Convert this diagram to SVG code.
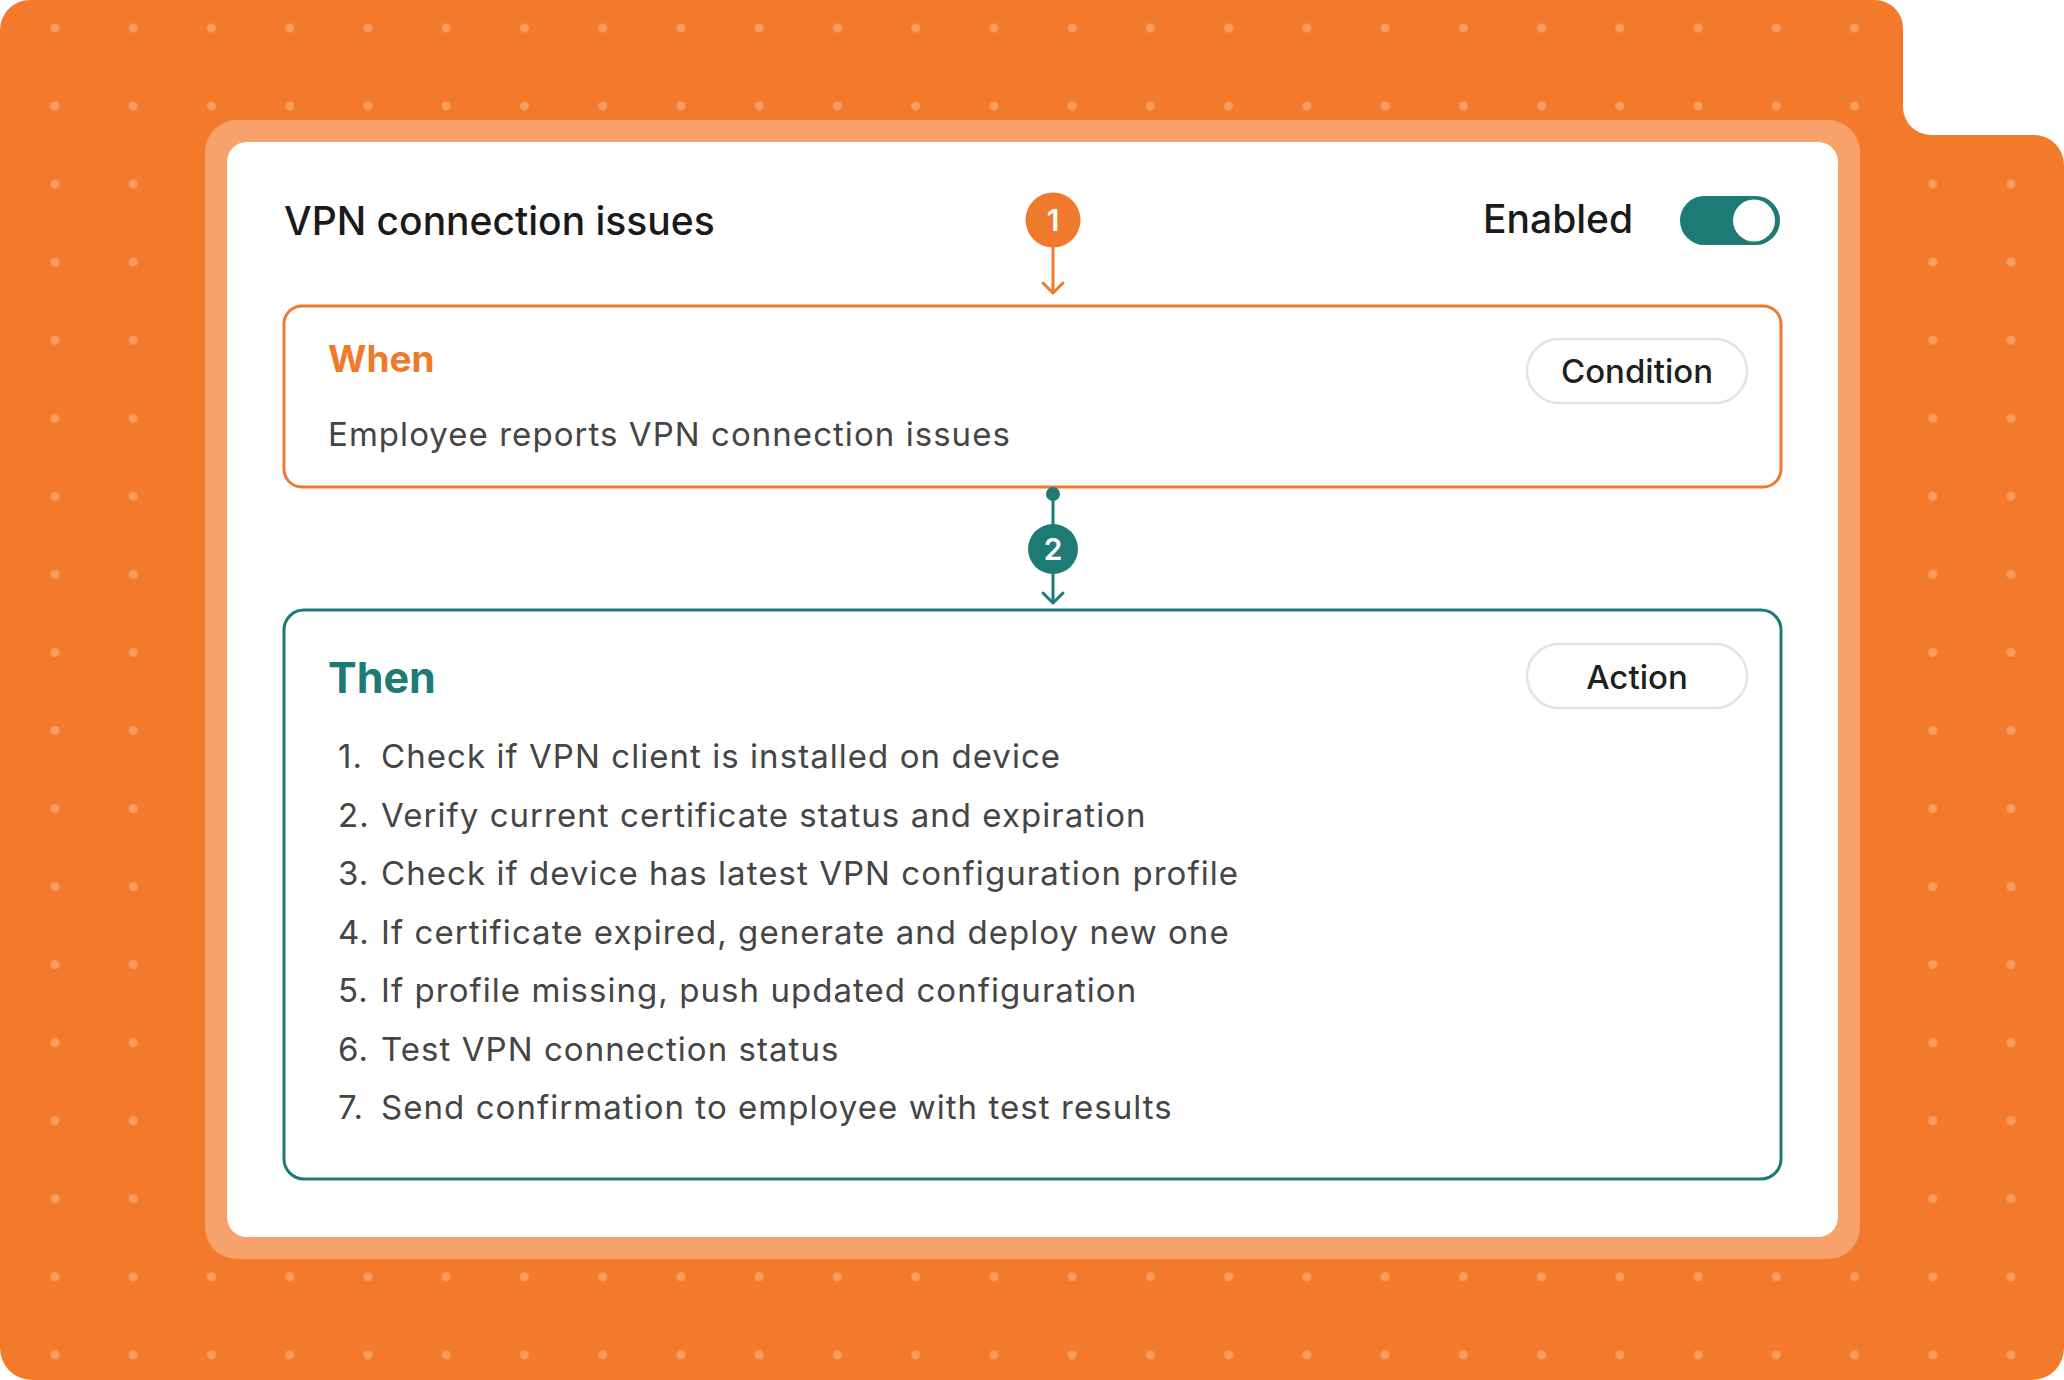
<svg xmlns="http://www.w3.org/2000/svg" width="2064" height="1380" viewBox="0 0 2064 1380">
  <defs>
    <pattern id="dots" patternUnits="userSpaceOnUse" x="15.88" y="-11.02" width="78.24" height="78.05">
      <circle cx="39.12" cy="39.02" r="4.5" fill="#F89C62"/>
    </pattern>
    <style>
      text { font-family: Inter, "Noto Sans", "Liberation Sans", sans-serif; }
      .title { font-size: 39px; fill: #1a1a1a; font-weight: 500; }
      .body { font-size: 33px; fill: #454545; letter-spacing: 1.05px; }
      .pill { fill: #ffffff; stroke: #E3E3E3; stroke-width: 2.5; }
      .pilltext { font-size: 33px; fill: #1f1f1f; font-weight: 500; text-anchor: middle; }
      .badgetext { font-size: 30px; fill: #ffffff; font-weight: 600; text-anchor: middle; }
      .orange { stroke: #F07A2C; }
      .teal { stroke: #1E7A74; }
    </style>
  </defs>

  <g id="background">
    <path id="bgshape" d="M30,0 H1875 A28,28 0 0 1 1903,28 V107 A28,28 0 0 0 1931,135 H2034 A30,30 0 0 1 2064,165 V1348 A32,32 0 0 1 2032,1380 H32 A32,32 0 0 1 0,1348 V30 A30,30 0 0 1 30,0 Z" fill="#F47A2B"/>
    <path d="M30,0 H1875 A28,28 0 0 1 1903,28 V107 A28,28 0 0 0 1931,135 H2034 A30,30 0 0 1 2064,165 V1348 A32,32 0 0 1 2032,1380 H32 A32,32 0 0 1 0,1348 V30 A30,30 0 0 1 30,0 Z" fill="url(#dots)"/>
  </g>

  <g id="card">
    <rect x="205" y="120" width="1655" height="1139" rx="32" fill="#F8A26B"/>
    <rect x="227" y="142" width="1611" height="1095" rx="20" fill="#ffffff"/>
  </g>

  <g id="header">
    <text class="title" x="284" y="235">VPN connection issues</text>
    <text class="title" x="1483" y="233">Enabled</text>
    <g id="toggle">
      <rect x="1680" y="196" width="100" height="49" rx="24.5" fill="#1E7A74"/>
      <circle cx="1754" cy="220.5" r="21" fill="#ffffff"/>
    </g>
  </g>

  <g id="badge1">
    <circle cx="1053" cy="220" r="27.5" fill="#F07A2C"/>
    <text class="badgetext" x="1053" y="231">1</text>
  </g>

  <g id="when">
    <rect x="284" y="306" width="1497" height="181" rx="18" fill="#ffffff" stroke="#F07A2C" stroke-width="3"/>
    <text x="328" y="372" font-size="37" font-weight="700" fill="#F07A2C">When</text>
    <rect class="pill" x="1527" y="339" width="220" height="64" rx="32"/>
    <text class="pilltext" x="1637" y="383">Condition</text>
    <text class="body" x="328" y="446">Employee reports VPN connection issues</text>
  </g>

  <g id="badge2">
    <circle cx="1053" cy="549" r="25" fill="#1E7A74"/>
    <text class="badgetext" x="1053" y="560">2</text>
  </g>

  <g id="then">
    <rect x="284" y="610" width="1497" height="569" rx="20" fill="#ffffff" stroke="#1E7A74" stroke-width="3"/>
    <text x="328" y="693" font-size="43" font-weight="700" fill="#1E7A74">Then</text>
    <rect class="pill" x="1527" y="644" width="220" height="64" rx="32"/>
    <text class="pilltext" x="1637" y="689">Action</text>
    <text class="body" x="338" y="768">1.</text>
    <text class="body" x="381" y="768">Check if VPN client is installed on device</text>
    <text class="body" x="338" y="826.5">2.</text>
    <text class="body" x="381" y="826.5">Verify current certificate status and expiration</text>
    <text class="body" x="338" y="885">3.</text>
    <text class="body" x="381" y="885">Check if device has latest VPN configuration profile</text>
    <text class="body" x="338" y="943.5">4.</text>
    <text class="body" x="381" y="943.5">If certificate expired, generate and deploy new one</text>
    <text class="body" x="338" y="1002">5.</text>
    <text class="body" x="381" y="1002">If profile missing, push updated configuration</text>
    <text class="body" x="338" y="1060.5">6.</text>
    <text class="body" x="381" y="1060.5">Test VPN connection status</text>
    <text class="body" x="338" y="1119">7.</text>
    <text class="body" x="381" y="1119">Send confirmation to employee with test results</text>
  </g>

  <g id="connectors" fill="none" stroke-width="3" stroke-linecap="round" stroke-linejoin="round">
    <line class="orange" x1="1053" y1="248" x2="1053" y2="292"/>
    <polyline class="orange" points="1043,283 1053,293 1063,283"/>
    <circle cx="1053" cy="494" r="7" fill="#1E7A74" stroke="none"/>
    <line class="teal" x1="1053" y1="494" x2="1053" y2="524"/>
    <line class="teal" x1="1053" y1="574" x2="1053" y2="602"/>
    <polyline class="teal" points="1043,593 1053,603 1063,593"/>
  </g>
</svg>
